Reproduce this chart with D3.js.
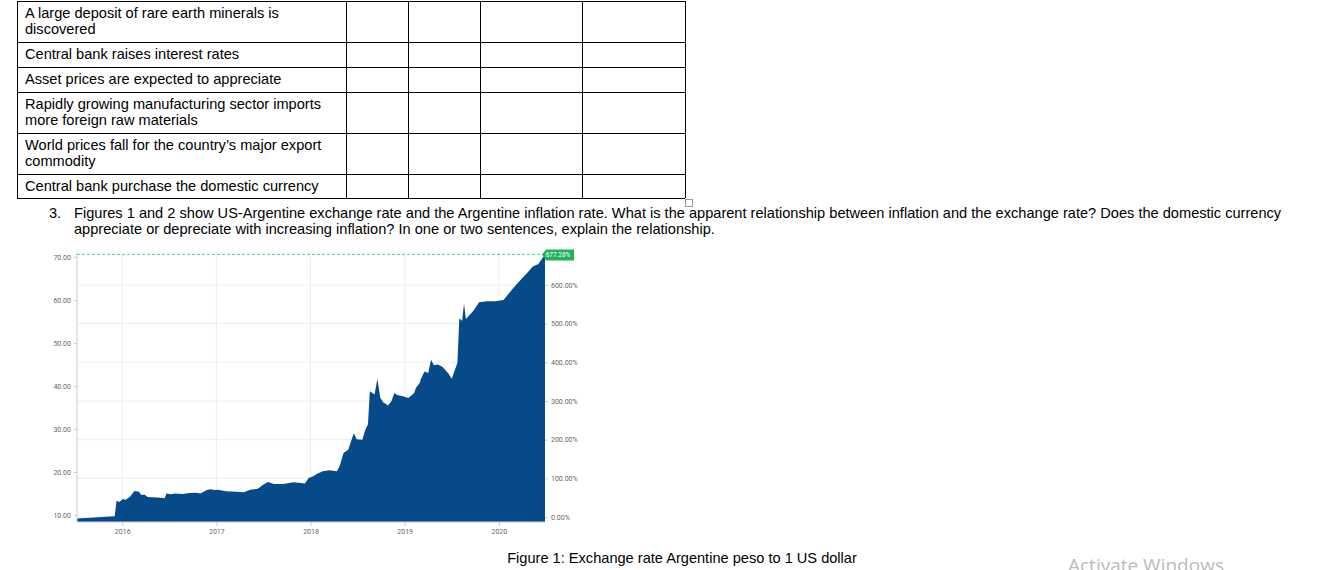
<!DOCTYPE html>
<html><head><meta charset="utf-8">
<script src="https://cdn.jsdelivr.net/npm/d3@7"></script>
<style>body{margin:0;background:#fff;overflow:hidden}svg{display:block}</style>
</head><body><svg id="c" width="1339" height="570"></svg>
<script>
const rowLabels=[["A large deposit of rare earth minerals is","discovered"],["Central bank raises interest rates"],["Asset prices are expected to appreciate"],["Rapidly growing manufacturing sector imports","more foreign raw materials"],["World prices fall for the country’s major export","commodity"],["Central bank purchase the domestic currency"]];
const years=[2015.52,2015.92,2015.94,2015.97,2016.01,2016.03,2016.08,2016.13,2016.18,2016.20,2016.24,2016.27,2016.41,2016.45,2016.47,2016.52,2016.56,2016.64,2016.71,2016.79,2016.83,2016.90,2016.94,2016.98,2017.02,2017.10,2017.21,2017.29,2017.36,2017.44,2017.50,2017.55,2017.61,2017.71,2017.82,2017.94,2017.98,2018.03,2018.07,2018.13,2018.20,2018.28,2018.31,2018.35,2018.40,2018.46,2018.49,2018.55,2018.58,2018.61,2018.63,2018.68,2018.71,2018.74,2018.77,2018.81,2018.82,2018.86,2018.89,2018.92,2018.97,2019.04,2019.10,2019.12,2019.16,2019.17,2019.21,2019.25,2019.28,2019.31,2019.35,2019.40,2019.46,2019.50,2019.56,2019.58,2019.61,2019.63,2019.65,2019.73,2019.79,2019.88,2019.96,2020.05,2020.11,2020.19,2020.30,2020.36,2020.42,2020.49];
const rates=[9.2,9.7,13.3,13.0,13.8,13.5,14.2,15.6,15.4,14.7,14.7,14.2,14.0,13.9,15.0,14.8,15.0,14.9,15.1,15.2,15.0,15.8,16.0,15.8,15.9,15.5,15.4,15.3,15.9,16.1,17.1,17.7,17.2,17.2,17.6,17.3,18.6,19.0,19.6,20.2,20.4,20.2,21.4,24.4,25.2,29.0,27.6,27.5,29.7,31.1,38.8,38.0,41.7,37.3,36.2,35.7,35.4,36.5,38.4,37.9,37.7,37.2,38.4,39.6,40.7,41.5,43.4,43.0,46.1,44.8,45.0,44.5,43.0,41.7,45.4,55.7,55.2,59.2,55.6,57.5,59.5,59.7,59.7,60.0,61.6,63.7,66.3,67.8,68.4,70.6];
const leftTicks=[10,20,30,40,50,60,70];
const rightTicks=[0,100,200,300,400,500,600];
const yearTicks=[2016,2017,2018,2019,2020];
const changeLabel="677.28%";

const svg=d3.select("#c");
const F="Arial,'Liberation Sans',sans-serif";
const FS=14.6;
const colX=[17,346,408,480,582,685];
const rowY=[1,42,67,92,133,174,198];
const t=svg.append("g");
rowY.forEach(y=>t.append("line").attr("x1",17).attr("x2",685).attr("y1",y+.5).attr("y2",y+.5).attr("stroke","#000"));
colX.forEach(x=>t.append("line").attr("x1",x+.5).attr("x2",x+.5).attr("y1",rowY[0]).attr("y2",198).attr("stroke","#000"));
rowLabels.forEach((ls,i)=>ls.forEach((s,j)=>t.append("text").attr("x",25).attr("y",rowY[i]+17+j*16).attr("font-family",F).attr("font-size",FS).text(s)));
t.append("rect").attr("x",685.5).attr("y",199.5).attr("width",7).attr("height",7).attr("fill","none").attr("stroke","#999");
t.append("text").attr("x",49).attr("y",218).attr("font-family",F).attr("font-size",FS).text("3.");
t.append("text").attr("x",74).attr("y",218).attr("font-family",F).attr("font-size",FS).text("Figures 1 and 2 show US-Argentine exchange rate and the Argentine inflation rate. What is the apparent relationship between inflation and the exchange rate? Does the domestic currency");
t.append("text").attr("x",74).attr("y",234).attr("font-family",F).attr("font-size",FS).text("appreciate or depreciate with increasing inflation? In one or two sentences, explain the relationship.");
t.append("text").attr("x",682).attr("y",563).attr("text-anchor","middle").attr("font-family",F).attr("font-size",FS).text("Figure 1: Exchange rate Argentine peso to 1 US dollar");
t.append("text").attr("x",1068).attr("y",572).attr("font-family","'Open Sans',sans-serif").attr("font-size",19).attr("fill","#bbb").text("Activate Windows");

const x=d3.scaleLinear().domain([years[0],years[years.length-1]]).range([77,545]);
const y=d3.scaleLinear().domain([10,70]).range([515,257]);
const yr=d3.scaleLinear().domain([0,600]).range([517,285]);
const bottom=522;
const g=svg.append("g");
yearTicks.forEach(v=>g.append("line").attr("x1",x(v)).attr("x2",x(v)).attr("y1",252).attr("y2",bottom).attr("stroke","#eee"));
rightTicks.forEach(v=>g.append("line").attr("x1",77).attr("x2",545).attr("y1",yr(v)).attr("y2",yr(v)).attr("stroke","#eee"));
const data=years.map((d,i)=>[d,rates[i]]);
g.append("path").datum(data).attr("fill","#064a8a")
 .attr("d",d3.area().x(d=>x(d[0])).y0(bottom).y1(d=>y(d[1])));
g.append("line").attr("x1",77).attr("x2",77).attr("y1",252).attr("y2",bottom).attr("stroke","#ccc");
g.append("line").attr("x1",77).attr("x2",545).attr("y1",bottom).attr("y2",bottom).attr("stroke","#ccc");
const ax=g.append("g").attr("transform",`translate(0,${bottom})`).call(d3.axisBottom(x).tickValues(yearTicks).tickFormat(d3.format("d")).tickSize(4));
const al=g.append("g").attr("transform","translate(77,0)").call(d3.axisLeft(y).tickValues(leftTicks).tickFormat(d3.format(".2f")).tickSize(3));
const ar=g.append("g").attr("transform","translate(545,0)").call(d3.axisRight(yr).tickValues(rightTicks).tickFormat(d=>d3.format(".2f")(d)+"%").tickSize(3));
[ax,al,ar].forEach(a=>{a.select(".domain").remove();a.selectAll("line").attr("stroke","#ccc");a.selectAll("text").attr("font-family","Roboto,sans-serif").attr("font-size",7).attr("fill","#666");});
const last=data[data.length-1];
g.append("line").attr("x1",77).attr("x2",545).attr("y1",y(last[1])).attr("y2",y(last[1])).attr("stroke","#3ddc84").attr("stroke-dasharray","3,2");
g.append("path").attr("d",`M${x(last[0])-3},${y(last[1])}L${x(last[0])+1},${y(last[1])-5}H574V${y(last[1])+6}H${x(last[0])+1}Z`).attr("fill","#21b35a");
g.append("text").attr("x",558).attr("y",y(last[1])+2.5).attr("text-anchor","middle").attr("font-family","Roboto,sans-serif").attr("font-size",6.5).attr("fill","#fff").text(changeLabel);
</script></body></html>
